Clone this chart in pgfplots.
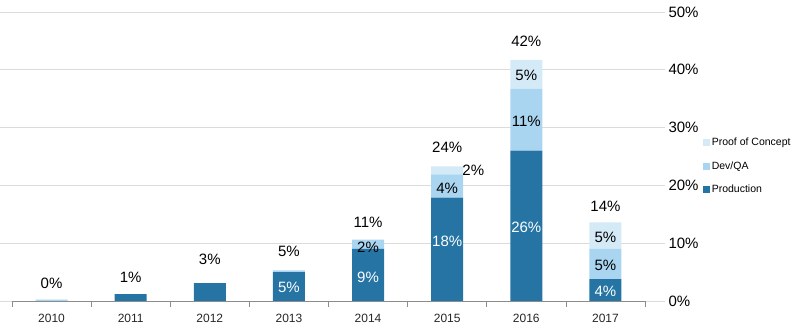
\documentclass[border=0pt]{standalone}
\usepackage{pgfplots}
\pgfplotsset{compat=1.18}
\usepackage{fontspec}
\setmainfont{Liberation Sans}
\definecolor{prod}{HTML}{2574A4}
\definecolor{dev}{HTML}{A9D5F0}
\definecolor{poc}{HTML}{D5EAF7}
\pgfplotsset{/pgf/number format/assume math mode=true}
\begin{document}
\begin{tikzpicture}[x=1pt,y=1pt]
% background grid and right-hand percentage axis
\begin{axis}[at={(0pt,31pt)}, anchor=south west, width=665pt, height=289pt, scale only axis,
  xmin=0, xmax=1, ymin=0, ymax=50, xtick=\empty, ytick={0,10,...,50},
  yticklabel pos=right, ymajorgrids, grid style={color=black!14, line width=0.7pt},
  axis line style={draw=none}, major tick length=0pt,
  yticklabel={\pgfmathprintnumber{\tick}\%},
  yticklabel style={font=\fontsize{15}{15}\selectfont}]
\end{axis}
% stacked bars
\begin{axis}[at={(12pt,31pt)}, anchor=south west, width=633pt, height=289pt, scale only axis,
  xmin=-0.5, xmax=7.5, ymin=0, ymax=50,
  ybar stacked, bar width=32pt,
  axis x line*=bottom, axis y line=none,
  x axis line style={black!45, line width=0.7pt},
  xtick={0,...,7}, xticklabels={2010,2011,2012,2013,2014,2015,2016,2017},
  xticklabel style={font=\fontsize{12}{12}\selectfont, yshift=-5.5pt, text=black!85},
  major x tick style={draw=none},
  minor xtick={-0.5,0.5,...,7.5}, minor tick length=6pt, tick align=outside,
  minor x tick style={black!45, line width=0.7pt},
  legend style={at={(axis description cs:1.091,0.572)}, anchor=north west, draw=none, fill=none,
    font=\fontsize{10.5}{12}\selectfont, inner sep=0pt, row sep=10.5pt,
    cells={anchor=west}},
  legend image code/.code={\fill[#1] (0pt,-3.5pt) rectangle (7pt,3.5pt);},
  reverse legend]
\addplot[fill=prod, draw=none] coordinates {(0,0) (1,1.2) (2,3.1) (3,5.0) (4,9.0) (5,17.9) (6,26.0) (7,3.8)};
\addlegendentry{Production}
\addplot[fill=dev, draw=none] coordinates {(0,0.2) (1,0) (2,0) (3,0.3) (4,1.6) (5,4.0) (6,10.7) (7,5.2)};
\addlegendentry{Dev/QA}
\addplot[fill=poc, draw=none] coordinates {(0,0.1) (1,0) (2,0) (3,0) (4,0) (5,1.4) (6,5.0) (7,4.6)};
\addlegendentry{Proof of Concept}
\end{axis}
% value labels
\begin{axis}[at={(12pt,31pt)}, anchor=south west, width=633pt, height=289pt, scale only axis,
  xmin=-0.5, xmax=7.5, ymin=0, ymax=50, hide axis,
  every node near coord/.append style={anchor=center, font=\fontsize{15}{15}\selectfont, inner sep=0pt},
  nodes near coords={\pgfmathprintnumber{\pgfplotspointmeta}\%}]
\addplot[draw=none, mark=none, point meta=explicit,
  every node near coord/.append style={text=black}] table[meta=l] {
x y l
0 3.1 0
1 4.1 1
2 7.2 3
3 8.6 5
4 13.6 11
4 9.3 2
5 26.6 24
5 19.5 4
5.33 22.6 2
6 45 42
6 39 5
6 31 11
7 16.4 14
7 11 5
7 6.2 5
};
\addplot[draw=none, mark=none, point meta=explicit,
  every node near coord/.append style={text=white}] table[meta=l] {
x y l
3 2.4 5
4 4.1 9
5 10.3 18
6 12.8 26
7 1.6 4
};
\end{axis}
\pgfresetboundingbox
\useasboundingbox (0pt,0pt) rectangle (800pt,332pt);
\end{tikzpicture}
\end{document}
